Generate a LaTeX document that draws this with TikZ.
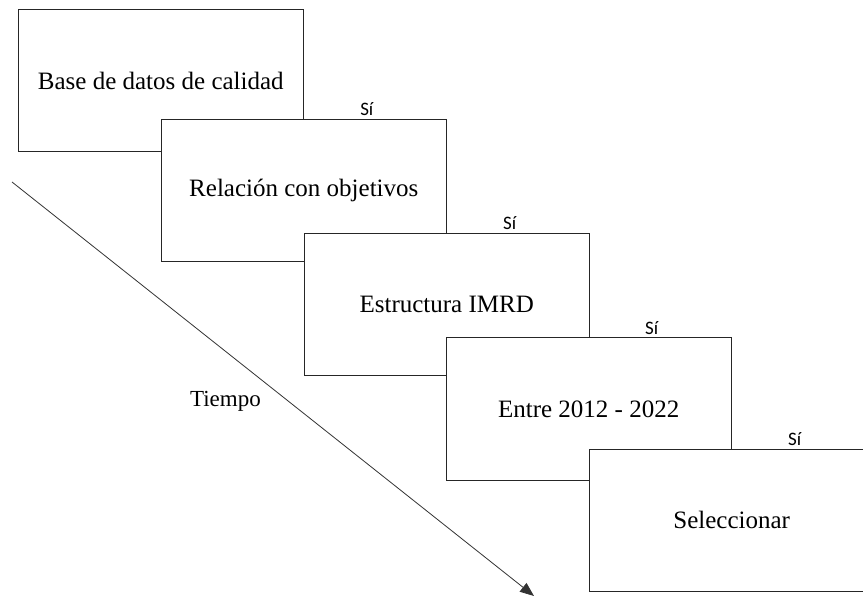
\documentclass[tikz,border=0pt]{standalone}
\usepackage{fontspec}
\setmainfont{Liberation Serif}
\newfontfamily\sifont{Carlito}
\usetikzlibrary{arrows.meta}
\begin{document}
\begin{tikzpicture}[x=1pt,y=-1pt,
  stagebox/.style={draw=black!85, line width=1pt, fill=white, rectangle,
    minimum width=285pt, minimum height=142pt, inner sep=0pt,
    font=\fontsize{25}{29}\selectfont},
  silabel/.style={anchor=south, inner sep=0pt, font=\sifont\fontsize{19}{22}\selectfont},
  timeline/.style={draw=black!80, line width=0.8pt, -{Triangle[length=14pt,width=11pt]}}]
\useasboundingbox (0,0) rectangle (863,596);
% time arrow
\coordinate (t0) at (12,182);
\coordinate (t1) at (534,596);
\draw[timeline] (t0) -- (t1);
\node[font=\fontsize{23}{27}\selectfont, inner sep=0pt] (tiempo) at (225.4,401) {Tiempo};
% boxes
\node[stagebox] (b1) at (160.8,80.7) {Base de datos de calidad};
\node[stagebox] (b2) at (303.8,190.8) {Relación con objetivos};
\node[stagebox] (b3) at (446.7,304.7) {Estructura IMRD};
\node[stagebox] (b4) at (588.7,409) {Entre 2012 - 2022};
\node[stagebox] (b5) at (731.7,520.2) {Seleccionar};
% labels
\node[silabel] (s1) at ([xshift=206pt,yshift=3pt]b2.north west) {Sí};
\node[silabel] (s2) at ([xshift=206pt,yshift=3pt]b3.north west) {Sí};
\node[silabel] (s3) at ([xshift=206pt,yshift=3pt]b4.north west) {Sí};
\node[silabel] (s4) at ([xshift=206pt,yshift=3pt]b5.north west) {Sí};
\end{tikzpicture}
\end{document}
